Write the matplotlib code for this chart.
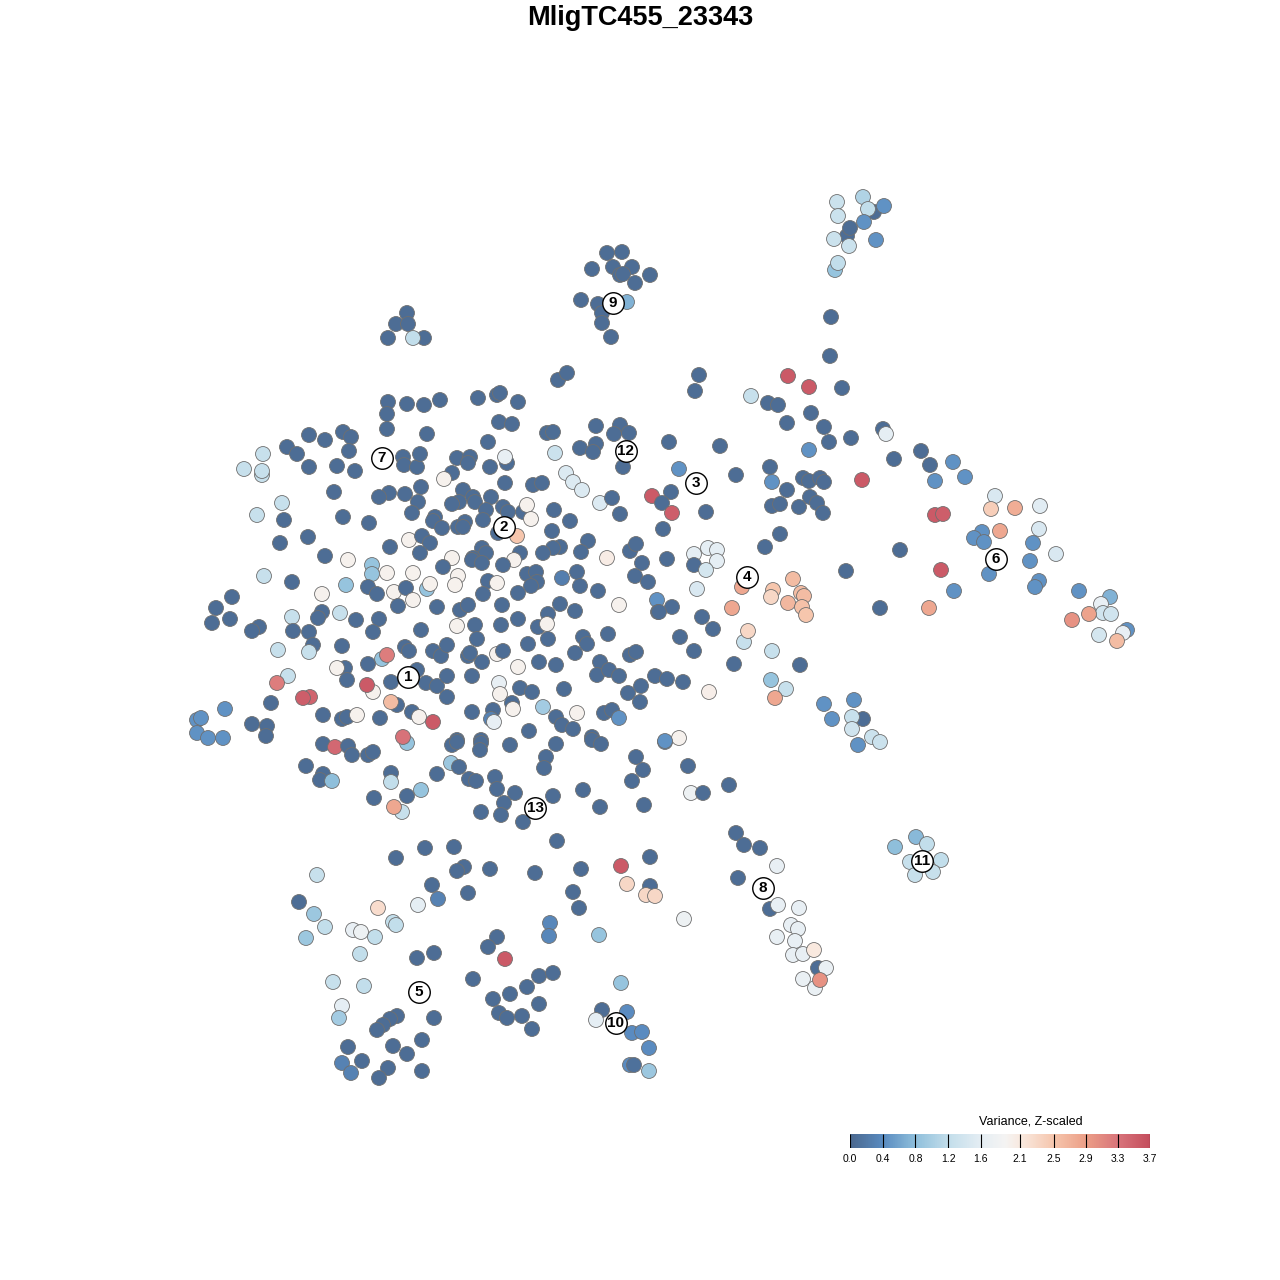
import numpy as np
import matplotlib
matplotlib.use("Agg")
import matplotlib.pyplot as plt
from matplotlib.colors import LinearSegmentedColormap, Normalize

plt.rcParams['font.family'] = ['Liberation Sans', 'DejaVu Sans']

# embedding coordinates (dim 1, dim 2) and z-scaled variance per cell
upper_left = [
    (388, 402, 0.05), (407, 404, 0.05), (424, 405, 0.05), (387, 414, 0.05), (387, 429, 0.05),
    (309, 435, 0.05), (325, 440, 0.05), (343, 432, 0.05), (351, 437, 0.05), (263, 454, 1.25),
    (287, 447, 0.05), (297, 454, 0.05), (244, 469, 1.25), (262, 475, 1.25), (262, 471, 1.25),
    (309, 467, 0.05), (337, 466, 0.05), (349, 451, 0.05), (355, 471, 0.05), (403, 457, 0.05),
    (404, 465, 0.05), (417, 467, 0.05), (420, 454, 0.05), (334, 492, 0.05), (389, 493, 0.05),
    (379, 497, 0.05), (405, 494, 0.05), (421, 487, 0.05), (418, 502, 0.05), (412, 513, 0.05),
    (282, 503, 1.25), (257, 515, 1.25), (284, 520, 0.05), (343, 517, 0.05), (369, 523, 0.05),
    (280, 543, 0.05), (308, 537, 0.05), (390, 547, 0.05), (409, 540, 1.95), (422, 536, 0.05),
    (325, 556, 0.05), (348, 560, 1.95),
]

upper_mid = [
    (558, 380, 0.05), (567, 373, 0.05), (440, 400, 0.05), (478, 398, 0.05), (497, 395, 0.05),
    (500, 393, 0.05), (518, 402, 0.05), (499, 422, 0.05), (512, 424, 0.05), (427, 434, 0.05),
    (547, 433, 0.05), (553, 432, 0.05), (488, 442, 0.05), (596, 426, 0.05), (620, 425, 0.05),
    (614, 434, 0.05), (629, 433, 0.05), (555, 453, 1.3), (580, 448, 0.05), (596, 444, 0.05),
    (593, 452, 0.05), (623, 467, 0.05), (457, 458, 0.05), (470, 457, 0.05), (468, 463, 0.05),
    (490, 467, 0.05), (507, 463, 0.05), (505, 457, 1.65), (566, 473, 1.5), (573, 482, 1.5),
    (582, 490, 1.5), (600, 503, 1.5), (612, 498, 0.05), (620, 514, 0.05), (652, 496, 3.55),
    (452, 473, 0.05), (444, 479, 1.95), (505, 483, 0.05), (533, 485, 0.05), (542, 483, 0.05),
    (463, 490, 0.05), (459, 502, 0.05), (452, 504, 0.05), (473, 497, 0.05), (475, 502, 0.05),
    (491, 497, 0.05), (486, 510, 0.05), (503, 507, 0.05), (508, 512, 0.05), (523, 512, 0.05),
    (527, 505, 1.95), (531, 519, 1.95), (554, 510, 0.05), (435, 517, 0.05), (433, 521, 0.05),
    (442, 528, 0.05), (458, 527, 0.05), (465, 522, 0.05), (463, 527, 0.05), (483, 520, 0.05),
    (498, 533, 0.05), (517, 536, 2.5), (552, 531, 0.05), (570, 521, 0.05), (588, 541, 0.05),
    (581, 552, 0.05), (560, 547, 0.05), (553, 548, 0.05), (543, 553, 0.05), (607, 558, 2.05),
    (630, 551, 0.05), (636, 544, 0.05), (430, 543, 0.05), (420, 553, 0.05), (452, 558, 1.95),
    (482, 548, 0.05), (486, 553, 0.05), (473, 558, 0.05), (520, 553, 0.05), (514, 560, 1.95),
    (642, 563, 0.05),
]

center_left = [
    (372, 565, 0.85), (372, 574, 0.85), (387, 573, 1.95), (413, 573, 1.95), (264, 576, 1.25),
    (292, 582, 0.05), (346, 585, 0.85), (322, 594, 1.95), (368, 587, 0.05), (377, 594, 0.05),
    (394, 592, 1.95), (406, 588, 0.05), (413, 600, 1.95), (398, 606, 0.05), (232, 597, 0.05),
    (216, 608, 0.05), (212, 623, 0.05), (230, 619, 0.05), (259, 627, 0.05), (252, 631, 0.05),
    (292, 617, 1.25), (293, 631, 0.05), (322, 612, 0.05), (318, 618, 0.05), (340, 613, 1.25),
    (356, 620, 0.05), (379, 619, 0.05), (373, 632, 0.05), (309, 632, 0.05), (313, 645, 0.05),
    (278, 650, 1.25), (309, 652, 1.25), (342, 646, 0.05), (421, 630, 0.05), (405, 647, 0.05),
    (409, 651, 0.05), (382, 659, 0.85), (387, 655, 3.2), (368, 664, 0.05), (345, 668, 0.05),
    (337, 668, 1.95), (347, 680, 0.05), (288, 676, 1.25), (277, 683, 3.2), (373, 692, 1.95),
    (367, 685, 3.55), (391, 682, 0.05), (417, 670, 0.05), (310, 697, 3.45), (303, 698, 3.5),
    (397, 705, 0.05), (391, 702, 2.6), (271, 703, 0.05), (225, 709, 0.45), (197, 720, 0.45),
    (201, 718, 0.45), (197, 733, 0.45), (208, 738, 0.45), (223, 738, 0.45), (252, 724, 0.05),
    (267, 726, 0.05), (266, 736, 0.05), (323, 715, 0.05), (342, 719, 0.05), (347, 717, 0.05),
    (357, 715, 1.95), (380, 718, 0.05), (412, 712, 0.05), (419, 717, 1.95),
]

center_mid = [
    (443, 567, 0.05), (472, 560, 0.05), (482, 563, 0.05), (503, 565, 0.05),
    (427, 589, 0.85), (430, 584, 1.95), (458, 576, 1.95), (455, 585, 1.95), (488, 581, 0.05),
    (497, 583, 1.95), (527, 574, 0.05), (536, 572, 0.05), (537, 582, 0.05), (531, 586, 0.05),
    (562, 578, 0.25), (577, 572, 0.05), (580, 586, 0.05), (598, 591, 0.05), (635, 576, 0.05),
    (648, 582, 0.05), (483, 594, 0.05), (518, 593, 0.05), (437, 607, 0.05), (460, 610, 0.05),
    (468, 605, 0.05), (502, 605, 0.05), (560, 604, 0.05), (575, 611, 0.05), (619, 605, 1.95),
    (657, 600, 0.45), (658, 612, 0.05), (457, 626, 1.95), (475, 625, 0.05), (501, 625, 0.05),
    (518, 619, 0.05), (548, 614, 0.05), (538, 627, 0.05), (547, 624, 1.95), (548, 639, 0.05),
    (477, 639, 0.05), (528, 644, 0.05), (583, 637, 0.05), (587, 644, 0.05), (608, 634, 0.05),
    (433, 651, 0.05), (441, 656, 0.05), (447, 645, 0.05), (468, 656, 0.05), (470, 653, 0.05),
    (497, 654, 1.95), (503, 651, 0.05), (482, 662, 0.05), (518, 667, 1.95), (539, 662, 0.05),
    (556, 665, 0.05), (575, 653, 0.05), (600, 662, 0.05), (597, 675, 0.05), (609, 670, 0.05),
    (619, 676, 0.05), (630, 655, 0.05), (636, 652, 0.05), (655, 676, 0.05), (426, 683, 0.05),
    (437, 686, 0.05), (447, 676, 0.05), (447, 697, 0.05), (472, 676, 0.05), (499, 683, 1.65),
    (500, 694, 1.95), (520, 688, 0.05), (532, 692, 0.05), (564, 689, 0.05), (628, 693, 0.05),
    (641, 686, 0.05), (640, 702, 0.05), (433, 722, 3.55), (472, 712, 0.05), (493, 710, 0.05),
    (491, 719, 0.3), (494, 722, 1.65), (512, 703, 0.05), (513, 709, 1.95), (543, 707, 0.95),
    (556, 717, 0.05), (562, 725, 0.05), (577, 713, 1.95), (573, 729, 0.05), (604, 713, 0.05),
    (612, 710, 0.05), (619, 718, 0.45), (457, 740, 0.05), (481, 740, 0.05), (529, 731, 0.05),
    (592, 737, 0.05),
]

lower_left = [
    (323, 744, 0.05), (335, 747, 3.4), (348, 746, 0.05), (352, 755, 0.05), (368, 755, 0.05),
    (373, 752, 0.05), (407, 743, 0.85), (403, 737, 3.3), (306, 766, 0.05), (323, 774, 0.05),
    (320, 780, 0.05), (332, 781, 0.8), (391, 773, 0.05), (391, 782, 1.2), (421, 790, 0.85),
    (374, 798, 0.05), (407, 796, 0.05), (402, 812, 1.25), (394, 807, 2.8), (396, 858, 0.05),
    (425, 848, 0.05), (317, 875, 1.25), (299, 902, 0.05), (314, 914, 0.9), (325, 927, 1.2),
    (306, 938, 0.9), (378, 908, 2.25), (418, 905, 1.6), (353, 930, 1.65), (361, 932, 1.75),
    (375, 937, 1.2), (393, 922, 1.2), (396, 925, 1.2), (360, 954, 1.2), (417, 958, 0.05),
    (333, 982, 1.25), (364, 986, 1.2), (342, 1006, 1.6), (339, 1018, 0.95), (397, 1016, 0.05),
    (390, 1019, 0.05), (383, 1025, 0.05), (377, 1030, 0.05), (348, 1047, 0.05), (393, 1046, 0.05),
    (422, 1040, 0.05), (407, 1054, 0.05), (342, 1063, 0.3), (362, 1061, 0.05), (351, 1073, 0.3),
    (388, 1068, 0.05), (379, 1078, 0.05), (422, 1071, 0.05),
]

lower_mid = [
    (452, 745, 0.05), (457, 742, 0.05), (481, 743, 0.05), (480, 750, 0.05), (510, 745, 0.05),
    (556, 744, 0.05), (592, 740, 0.05), (601, 744, 0.05), (665, 742, 0.35), (679, 738, 1.95),
    (451, 763, 0.9), (459, 767, 0.05), (437, 774, 0.05), (469, 779, 0.05), (476, 781, 0.05),
    (495, 777, 0.05), (497, 789, 0.05), (515, 793, 0.05), (504, 803, 0.05), (481, 812, 0.05),
    (501, 815, 0.05), (523, 822, 0.05), (546, 757, 0.05), (544, 768, 0.05), (553, 796, 0.05),
    (583, 790, 0.05), (600, 807, 0.05), (636, 757, 0.05), (643, 770, 0.05), (632, 781, 0.05),
    (688, 766, 0.05), (691, 793, 1.75), (703, 793, 0.05), (644, 805, 0.05), (557, 841, 0.05),
    (454, 847, 0.05), (464, 867, 0.05), (457, 871, 0.05), (490, 869, 0.05), (535, 873, 0.05),
    (581, 869, 0.05), (621, 866, 3.55), (650, 857, 0.05), (627, 884, 2.3), (650, 886, 0.05),
    (646, 895, 2.3), (655, 896, 2.3), (432, 885, 0.05), (438, 899, 0.3), (468, 893, 0.05),
    (573, 892, 0.05), (579, 908, 0.05), (684, 919, 1.75), (550, 923, 0.35), (549, 936, 0.35),
    (599, 935, 0.85), (497, 937, 0.05), (488, 947, 0.05), (505, 959, 3.55), (434, 953, 0.05),
    (473, 979, 0.05), (539, 976, 0.05), (553, 973, 0.05), (527, 987, 0.05), (510, 994, 0.05),
    (493, 999, 0.05), (539, 1004, 0.05), (499, 1013, 0.05), (507, 1018, 0.05), (522, 1016, 0.05),
    (532, 1029, 0.05), (621, 983, 0.85), (602, 1010, 0.05), (627, 1012, 0.4), (596, 1020, 1.6),
    (632, 1033, 0.4), (642, 1032, 0.4), (649, 1048, 0.4), (630, 1065, 0.4), (634, 1065, 0.1),
    (649, 1071, 0.9), (434, 1018, 0.05),
]

right_mid = [
    (830, 356, 0.05), (699, 375, 0.05), (695, 391, 0.05), (788, 376, 3.55), (809, 387, 3.55),
    (842, 388, 0.05), (751, 396, 1.25), (768, 403, 0.05), (778, 405, 0.05), (811, 413, 0.05),
    (787, 423, 0.05), (824, 427, 0.05), (829, 442, 0.05), (851, 438, 0.05), (883, 429, 0.05),
    (886, 434, 1.6), (894, 459, 0.05), (669, 442, 0.05), (720, 446, 0.05), (809, 450, 0.45),
    (679, 469, 0.45), (736, 475, 0.05), (770, 467, 0.05), (772, 482, 0.45), (803, 478, 0.05),
    (809, 481, 0.05), (820, 478, 0.05), (824, 482, 0.05), (862, 480, 3.55), (787, 490, 0.05),
    (671, 492, 0.05), (662, 503, 0.05), (672, 513, 3.5), (706, 512, 0.05), (772, 506, 0.05),
    (780, 504, 0.05), (799, 507, 0.05), (810, 497, 0.05), (817, 503, 0.05), (823, 513, 0.05),
    (663, 529, 0.05), (780, 534, 0.05), (765, 547, 0.05), (667, 559, 0.05),
    (694, 554, 1.6), (708, 548, 1.6), (717, 550, 1.6), (717, 561, 1.6), (694, 565, 0.05),
    (706, 570, 1.4), (697, 589, 1.45), (672, 607, 0.05), (659, 612, 0.05), (702, 617, 0.05),
    (742, 587, 2.8), (793, 579, 2.6), (773, 590, 2.5), (771, 597, 2.3), (801, 593, 2.6),
    (804, 596, 2.6), (788, 603, 2.65), (802, 607, 2.55), (806, 615, 2.5), (732, 608, 2.8),
    (846, 571, 0.05), (880, 608, 0.05), (713, 629, 0.05), (680, 637, 0.05), (694, 651, 0.05),
    (744, 642, 1.25), (748, 631, 2.3), (772, 651, 1.25), (734, 664, 0.05), (800, 665, 0.05),
    (667, 679, 0.05), (683, 682, 0.05), (709, 692, 2.0), (771, 680, 0.85), (786, 689, 1.25),
    (775, 698, 2.8), (824, 704, 0.45), (832, 719, 0.45), (854, 700, 0.45), (863, 719, 0.05),
    (852, 717, 1.25), (852, 729, 1.35), (872, 737, 1.3), (880, 742, 1.3), (858, 745, 0.45),
    (665, 741, 0.45), (729, 785, 0.05), (736, 833, 0.05), (744, 845, 0.05), (760, 848, 0.05),
    (895, 847, 0.8),
]

far_right = [
    (921, 451, 0.05), (930, 465, 0.05), (953, 462, 0.45), (935, 481, 0.45), (965, 477, 0.45),
    (995, 496, 1.45), (991, 509, 2.4), (1015, 508, 2.75), (1040, 506, 1.55), (935, 515, 3.55),
    (943, 514, 3.5), (982, 532, 0.45), (974, 538, 0.45), (984, 542, 0.45), (1000, 531, 2.8),
    (1039, 529, 1.45), (1033, 543, 0.45), (1056, 554, 1.45), (1030, 561, 0.45), (989, 574, 0.45),
    (900, 550, 0.05), (941, 570, 3.55), (954, 591, 0.45), (1039, 581, 0.45), (1035, 587, 0.45),
    (1079, 591, 0.45), (1110, 597, 0.7), (1101, 604, 1.65), (1103, 613, 1.35), (1111, 614, 1.35),
    (1089, 614, 2.85), (1072, 620, 3.0), (1127, 630, 0.45), (1123, 633, 1.65), (1099, 635, 1.4),
    (1117, 641, 2.6), (929, 608, 2.8),
]

lower_right = [
    (777, 866, 1.65), (738, 878, 0.05), (770, 909, 0.05), (778, 905, 1.65), (799, 908, 1.65),
    (791, 925, 1.65), (798, 929, 1.65), (777, 937, 1.65), (795, 941, 1.65), (793, 955, 1.65),
    (803, 954, 1.65), (814, 950, 2.1), (818, 968, 0.05), (826, 968, 1.7), (803, 979, 1.7),
    (815, 988, 1.7), (820, 980, 3.0), (916, 837, 0.75), (927, 844, 1.2), (910, 862, 1.25),
    (941, 860, 1.2), (915, 875, 1.25), (933, 872, 1.25),
]

top_groups = [
    (607, 253, 0.05), (622, 252, 0.05), (592, 269, 0.05), (613, 267, 0.05), (632, 267, 0.05),
    (620, 275, 0.05), (623, 274, 0.05), (650, 275, 0.05), (635, 283, 0.05), (581, 300, 0.05),
    (598, 304, 0.05), (627, 302, 0.7), (602, 313, 0.05), (602, 323, 0.05), (611, 337, 0.05),
    (407, 313, 0.05), (396, 324, 0.05), (408, 324, 0.05), (388, 338, 0.05), (424, 338, 0.05),
    (413, 338, 1.2),
    (837, 202, 1.3), (863, 197, 1.05), (838, 216, 1.3), (874, 212, 0.05), (868, 209, 1.2),
    (884, 206, 0.45), (864, 222, 0.45), (847, 236, 0.05), (850, 228, 0.05), (834, 239, 1.3),
    (849, 246, 1.3), (876, 240, 0.45), (835, 270, 0.85), (838, 263, 1.2), (831, 317, 0.05),
]

cluster_ids = ['1', '2', '3', '4', '5', '6', '7', '8', '9', '10', '11', '12', '13']
cluster_x = [408, 504, 696, 747, 419, 996, 382, 763, 613, 616, 922, 626, 535]
cluster_y = [677, 527, 483, 577, 992, 559, 458, 888, 303, 1023, 861, 451, 808]

bar_ticks = [0.0, 0.4, 0.8, 1.2, 1.6, 2.08, 2.49, 2.89, 3.28, 3.67]
bar_labels = ['0.0', '0.4', '0.8', '1.2', '1.6', '2.1', '2.5', '2.9', '3.3', '3.7']
vmin, vmax = 0.0, 3.67

cells = np.array(upper_left + upper_mid + center_left + center_mid + lower_left
                 + lower_mid + right_mid + far_right + lower_right + top_groups)
dim1, dim2, variance = cells[:, 0], cells[:, 1], cells[:, 2]

anchors = [(0.0, '#4b6990'), (0.4, '#5a8cc1'), (0.8, '#90c0dc'), (1.2, '#c3deeb'),
           (1.6, '#e5eef4'), (1.9, '#f5f4f3'), (2.1, '#f9e9df'), (2.5, '#f6c6ad'),
           (2.9, '#ec9e87'), (3.3, '#d8737a'), (3.67, '#c54f5e')]
cmap = LinearSegmentedColormap.from_list(
    'var', [(v / vmax, c) for v, c in anchors])
norm = Normalize(vmin, vmax)

fig = plt.figure(figsize=(12.8, 12.8), dpi=100)
ax = fig.add_axes([0, 0, 1, 1])
ax.scatter(dim1, dim2, c=variance, cmap=cmap, norm=norm, s=115,
           edgecolors='#6f6f6f', linewidths=0.6, zorder=2)
ax.scatter(cluster_x, cluster_y, s=240, facecolors='white', edgecolors='black',
           linewidths=1.0, zorder=3)
for cid, cx, cy in zip(cluster_ids, cluster_x, cluster_y):
    ax.text(cx, cy, cid, ha='center', va='center', fontsize=11, fontweight='bold', zorder=4)
ax.set_xlim(0, 1280)
ax.set_ylim(1280, 0)
ax.axis('off')

fig.text(0.5, 1 - 18 / 1280, 'MligTC455_23343', ha='center', va='center',
         fontsize=19.5, fontweight='bold')

# colour bar legend
cax = fig.add_axes([850 / 1280, 1 - 1148 / 1280, 300 / 1280, 14 / 1280])
grad = np.linspace(vmin, vmax, 400).reshape(1, -1)
cax.imshow(grad, cmap=cmap, norm=norm, aspect='auto', extent=(vmin, vmax, 0, 1))
cax.vlines(bar_ticks, 0, 1, colors='black', linewidth=0.8)
cax.set_xlim(vmin, vmax)
cax.set_ylim(0, 1)
cax.set_xticks(bar_ticks)
cax.set_xticklabels(bar_labels)
cax.set_yticks([])
cax.tick_params(axis='x', length=0, labelsize=7.5, pad=4)
for sp in cax.spines.values():
    sp.set_visible(False)
fig.text(1031 / 1280, 1 - 1122 / 1280, 'Variance, Z-scaled', ha='center', va='center',
         fontsize=9)

fig.savefig('out.png', dpi=100)
